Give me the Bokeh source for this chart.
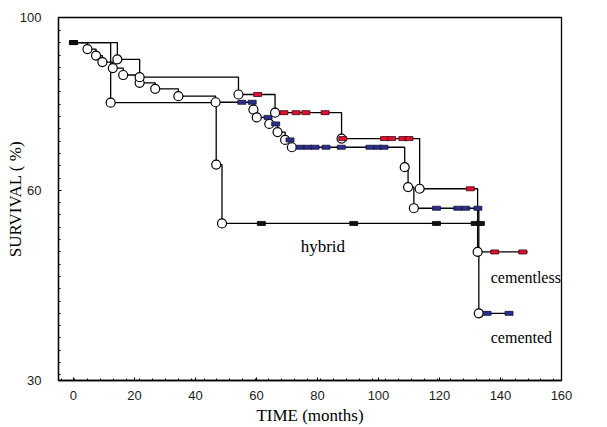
import numpy as np
from bokeh.plotting import figure
from bokeh.models import FixedTicker, CustomJSTickFormatter
from bokeh.core.properties import value
from bokeh.embed import file_html
from bokeh.resources import INLINE

# ---------------- data (months, survival %) ----------------
start_survival = 94.2

cementless_t = [14.4, 21.7, 54.1, 66.1, 87.9, 113.5, 132.5]
cementless_s = [90.3, 86.2, 82.2, 78.0, 72.0, 60.4, 50.3]
cementless_censor = [0, 60.4, 69.0, 73.0, 76.2, 82.5, 88.3, 102.0, 104.3, 108.0, 110.0,
                     130.1, 138.1, 147.3]
cementless_end = 148.9

cemented_t = [4.6, 7.4, 9.5, 12.9, 16.3, 21.7, 26.8, 34.4, 46.6, 59.0, 60.1, 64.2, 66.9,
              69.4, 71.6, 108.6, 109.7, 111.6, 132.9]
cemented_s = [92.7, 91.2, 89.7, 88.3, 86.7, 84.9, 83.5, 81.8, 80.4, 78.7, 76.9, 75.4, 73.5,
              71.7, 70.0, 65.4, 60.8, 57.2, 40.6]
cemented_censor = [55.2, 58.6, 63.8, 66.3, 71.0, 74.3, 76.9, 79.2, 82.8, 87.8, 97.2, 99.8,
                   101.8, 119.0, 126.0, 128.6, 132.6, 135.6, 142.8]
cemented_end = 144.1

hybrid_t = [12.2, 46.8, 48.7]
hybrid_s = [80.3, 66.0, 54.8]
hybrid_censor = [0, 61.6, 91.9, 119.0, 131.7, 133.4]
hybrid_end = 134.5

x_ticks = [0, 20, 40, 60, 80, 100, 120, 140, 160]
y_ticks = [30, 60, 100]

# ---------------- axis transform (non-linear survival axis) ----------------
K = 1.4644  # below 60 % the axis is stretched


def axis_pos(v):
    return v if v >= 60 else 60 - (60 - v) * K


def level(ts, ss, t):
    cur = start_survival
    for ti, si in zip(ts, ss):
        if ti <= t:
            cur = si
    return cur


p = figure(width=600, height=427, x_range=(-4.9, 160), y_range=(axis_pos(30), 100),
           output_backend="svg", toolbar_location=None,
           min_border_left=58, min_border_right=39, min_border_top=17, min_border_bottom=47)
p.background_fill_color = "white"
p.border_fill_color = "white"
p.xgrid.visible = False
p.ygrid.visible = False
p.outline_line_color = "black"
p.outline_line_width = 1.3
p.outline_line_alpha = 1.0

# ticks
x_minor = [(px - 73) / 3.06 for px in np.arange(61, 561, 13)]
p.xaxis.ticker = FixedTicker(ticks=x_ticks, minor_ticks=x_minor)
y_minor = [100 - (py - 17) / 4.325 for py in np.linspace(30, 374.3, 29)]
p.yaxis.ticker = FixedTicker(ticks=[axis_pos(v) for v in y_ticks], minor_ticks=y_minor)
p.yaxis.formatter = CustomJSTickFormatter(
    code="const v = tick >= 60 ? tick : 60 - (60 - tick) / %f; return Math.round(v).toString();" % K)

for ax in (p.xaxis[0], p.yaxis[0]):
    ax.axis_line_color = "black"
    ax.axis_line_width = 1.3
    ax.major_tick_out = 0
    ax.major_tick_in = 3
    ax.minor_tick_out = 0
    ax.minor_tick_in = 2
    ax.major_tick_line_color = "black"
    ax.minor_tick_line_color = "black"
    ax.major_label_text_font = "Liberation Sans"
    ax.major_label_text_font_size = "13px"
    ax.major_label_text_color = "#1a1a1a"
    ax.axis_label_text_font = "Liberation Serif"
    ax.axis_label_text_font_size = "17px"
    ax.axis_label_text_font_style = "normal"
    ax.axis_label_text_color = "black"
p.xaxis.major_label_standoff = 10
p.yaxis.major_label_standoff = 17
p.xaxis.axis_label = "TIME (months)"
p.xaxis.axis_label_standoff = 3
p.yaxis.axis_label = "SURVIVAL ( %)"
p.yaxis.axis_label_standoff = -8

# ---------------- curves ----------------
series = [
    (cemented_t, cemented_s, cemented_censor, cemented_end, "#2e2e8c", "#111133"),
    (cementless_t, cementless_s, cementless_censor, cementless_end, "#e3102f", "#3a0010"),
    (hybrid_t, hybrid_s, hybrid_censor, hybrid_end, "#111111", "#000000"),
]

for ts, ss, cens, end, fill, edge in series:
    xs = [0] + ts + [end]
    ys = [axis_pos(v) for v in [start_survival] + ss + [ss[-1]]]
    p.step(xs, ys, mode="after", line_color="black", line_width=1.3)

for ts, ss, cens, end, fill, edge in series:
    p.scatter(ts, [axis_pos(v) for v in ss], marker="circle", size=9,
              fill_color="white", line_color="black", line_width=1.2)

for ts, ss, cens, end, fill, edge in series:
    p.rect(cens, [axis_pos(level(ts, ss, t)) for t in cens], width=8, height=4,
           width_units="screen", height_units="screen",
           fill_color=fill, line_color=edge, line_width=0.8)

# ---------------- curve labels ----------------
lab_t = [74.5, 136.8, 136.8]
lab_s = [51.2, 46.2, 36.8]
lab_text = ["hybrid", "cementless", "cemented"]
lab_size = ["17px", "16px", "16px"]
p.text(lab_t, [axis_pos(v) for v in lab_s], text=lab_text,
       text_font=value("Liberation Serif"), text_font_size=lab_size,
       text_color="black", text_align="left", text_baseline="alphabetic")

open("out.html", "w").write(file_html(p, INLINE))
